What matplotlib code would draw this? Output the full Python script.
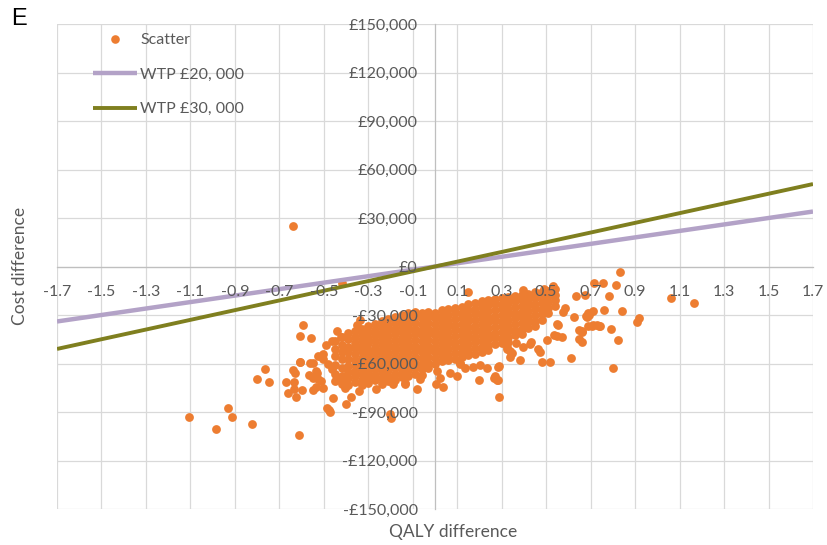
import matplotlib
matplotlib.use("Agg")
import matplotlib.pyplot as plt
from matplotlib.lines import Line2D
from matplotlib.ticker import FixedLocator, FuncFormatter

# Axis ticks
qaly_ticks = [-1.7, -1.5, -1.3, -1.1, -0.9, -0.7, -0.5, -0.3, -0.1,
              0.1, 0.3, 0.5, 0.7, 0.9, 1.1, 1.3, 1.5, 1.7]
cost_ticks = [-150000, -120000, -90000, -60000, -30000, 0,
              30000, 60000, 90000, 120000, 150000]

# Willingness-to-pay thresholds (£ per QALY gained)
wtp_labels = ["WTP £20, 000", "WTP £30, 000"]
wtp_values = [20000, 30000]

# Bootstrap replicates: (QALY difference, cost difference in £ thousand)
outlying_points = [
    (-0.639, 24.8), (-0.42, -10.4), (-1.105, -93.0), (-0.986, -100.4),
    (-0.932, -87.4), (-0.911, -93.0), (-0.822, -97.7), (-0.613, -104.3),
    (-0.80, -69.4), (-0.766, -63.5), (-0.745, -71.2), (-0.669, -71.2),
    (-0.662, -78.5), (-0.639, -64.0), (-0.631, -65.6), (-0.634, -71.2),
    (-0.634, -76.0), (-0.627, -80.7), (-0.607, -59.0), (-0.600, -76.6),
    (-0.592, -36.2), (-0.607, -42.9), (-0.558, -44.5), (-0.565, -67.3),
    (-0.562, -59.4), (-0.547, -59.4), (-0.550, -76.6), (-0.535, -74.5),
    (-0.537, -64.6), (-0.550, -68.8), (-0.531, -65.6), (-0.525, -69.4),
    (-0.514, -70.8), (-0.525, -55.3), (-0.502, -54.2), (-0.502, -57.3),
    (-0.489, -48.6), (-0.465, -46.0), (-0.487, -87.4), (-0.477, -88.6),
    (-0.472, -90.0), (-0.459, -81.6), (-0.400, -85.3), (-0.378, -80.6),
    (-0.343, -77.0), (-0.267, -75.6), (-0.190, -72.9), (-0.190, -70.2),
    (-0.136, -71.9), (-0.080, -76.0), (-0.067, -69.8), (-0.198, -94.0),
    (-0.202, -91.5), (0.004, -72.9), (0.035, -74.5), (-0.48, -60.4),
    (-0.465, -63.5), (-0.442, -68.8), (-0.420, -70.8), (-0.405, -75.0),
    (-0.502, -75.0), (-0.439, -39.8), (-0.424, -43.9), (-0.337, -32.9),
    (-0.352, -36.0), (-0.606, -58.8), (-0.135, -72.5),
    (0.832, -3.1), (0.717, -10.1), (0.757, -10.1), (0.814, -11.4),
    (0.784, -18.0), (0.633, -18.0), (0.675, -17.4), (1.061, -19.5),
    (1.166, -22.8), (0.760, -26.7), (0.843, -27.7), (0.709, -27.7),
    (0.693, -30.0), (0.682, -31.5), (0.625, -31.1), (0.585, -25.7),
    (0.577, -28.0), (0.917, -32.1), (0.910, -34.6), (0.712, -36.2),
    (0.690, -37.1), (0.739, -37.1), (0.792, -38.7), (0.648, -39.3),
    (0.663, -40.8), (0.648, -44.9), (0.663, -46.4), (0.822, -45.5),
    (0.552, -36.2), (0.537, -42.4), (0.570, -43.9), (0.502, -45.5),
    (0.472, -52.8), (0.462, -51.1), (0.517, -58.8), (0.483, -58.8),
    (0.612, -56.7), (0.799, -62.5), (0.532, -11.8), (0.490, -13.9),
    (0.529, -13.2), (0.520, -14.9), (0.150, -16.0), (0.397, -14.5),
    (0.342, -20.1), (0.472, -18.0), (0.445, -18.0), (0.255, -21.5),
    (0.217, -23.2), (0.679, -30.4), (0.690, -29.0), (0.742, -36.6),
    (0.727, -36.0), (0.707, -37.1), (0.660, -39.7), (0.547, -42.9),
    (0.547, -35.6), (0.432, -47.0), (0.427, -48.0), (0.397, -50.1),
    (0.364, -47.6), (0.382, -57.8), (0.337, -55.7), (0.322, -51.1),
    (0.345, -53.2), (0.322, -50.1), (0.337, -52.2), (0.288, -61.5),
    (0.285, -61.9), (0.270, -67.7), (0.282, -70.2), (0.267, -68.8),
    (0.280, -70.4), (0.288, -80.6), (0.198, -70.2), (0.232, -62.5),
    (0.170, -62.1), (0.202, -60.9), (0.112, -59.4), (0.135, -62.5),
    (0.112, -60.4), (0.067, -66.0), (0.098, -67.7), (0.008, -64.6),
    (0.022, -68.8),
]

central_points = [
    (-0.45, -46), (-0.45, -51), (-0.45, -55.5), (-0.45, -61), (-0.45, -66.5), (-0.45, -71),
    (-0.42, -43.5), (-0.42, -48.5), (-0.42, -53), (-0.42, -57.5), (-0.42, -63), (-0.42, -68), (-0.42, -72.5),
    (-0.39, -41), (-0.39, -45), (-0.39, -49.5), (-0.39, -53), (-0.39, -57), (-0.39, -61.5), (-0.39, -65), (-0.39, -69), (-0.39, -73),
    (-0.36, -40), (-0.36, -43.5), (-0.36, -47.5), (-0.36, -50.5), (-0.36, -54), (-0.36, -58), (-0.36, -61), (-0.36, -64.5), (-0.36, -68), (-0.36, -71.5),
    (-0.33, -38.5), (-0.33, -42), (-0.33, -45.5), (-0.33, -49), (-0.33, -52.5), (-0.33, -56.5), (-0.33, -59.5), (-0.33, -63), (-0.33, -66.5), (-0.33, -70), (-0.33, -73.5),
    (-0.30, -37), (-0.30, -40.5), (-0.30, -44), (-0.30, -47.5), (-0.30, -51.5), (-0.30, -54.5), (-0.30, -58), (-0.30, -61.5), (-0.30, -65), (-0.30, -68.5), (-0.30, -72),
    (-0.27, -35.5), (-0.27, -39), (-0.27, -42.5), (-0.27, -46), (-0.27, -49.5), (-0.27, -53), (-0.27, -56.5), (-0.27, -60), (-0.27, -63.5), (-0.27, -67), (-0.27, -70.5),
    (-0.24, -34), (-0.24, -37.5), (-0.24, -41), (-0.24, -44.5), (-0.24, -48), (-0.24, -51.5), (-0.24, -55), (-0.24, -58.5), (-0.24, -62), (-0.24, -65.5), (-0.24, -69), (-0.24, -72.5),
    (-0.21, -32.5), (-0.21, -36), (-0.21, -39.5), (-0.21, -43), (-0.21, -46.5), (-0.21, -50), (-0.21, -53.5), (-0.21, -57), (-0.21, -60.5), (-0.21, -64), (-0.21, -67.5), (-0.21, -71),
    (-0.18, -31.5), (-0.18, -35), (-0.18, -38.5), (-0.18, -42), (-0.18, -45.5), (-0.18, -49), (-0.18, -52.5), (-0.18, -56), (-0.18, -59.5), (-0.18, -63), (-0.18, -66.5), (-0.18, -70),
    (-0.15, -30), (-0.15, -33.5), (-0.15, -37), (-0.15, -40.5), (-0.15, -44), (-0.15, -47.5), (-0.15, -51), (-0.15, -54.5), (-0.15, -58), (-0.15, -61.5), (-0.15, -65), (-0.15, -68.5),
    (-0.12, -29), (-0.12, -32.5), (-0.12, -36), (-0.12, -39.5), (-0.12, -43), (-0.12, -46.5), (-0.12, -50), (-0.12, -53.5), (-0.12, -57), (-0.12, -60.5), (-0.12, -64), (-0.12, -67.5),
    (-0.09, -28), (-0.09, -31.5), (-0.09, -35), (-0.09, -38.5), (-0.09, -42), (-0.09, -45.5), (-0.09, -49), (-0.09, -52.5), (-0.09, -56), (-0.09, -59.5), (-0.09, -63), (-0.09, -66.5),
    (-0.06, -28.5), (-0.06, -32), (-0.06, -35.5), (-0.06, -39), (-0.06, -42.5), (-0.06, -46), (-0.06, -49.5), (-0.06, -53), (-0.06, -56.5), (-0.06, -60), (-0.06, -63.5), (-0.06, -67),
    (-0.03, -28), (-0.03, -31.5), (-0.03, -35), (-0.03, -38.5), (-0.03, -42), (-0.03, -45.5), (-0.03, -49), (-0.03, -52.5), (-0.03, -56), (-0.03, -59.5), (-0.03, -63),
    (0.00, -28.5), (0.00, -32), (0.00, -35.5), (0.00, -39), (0.00, -42.5), (0.00, -46), (0.00, -49.5), (0.00, -53), (0.00, -56.5), (0.00, -60),
    (0.03, -27), (0.03, -30.5), (0.03, -34), (0.03, -37.5), (0.03, -41), (0.03, -44.5), (0.03, -48), (0.03, -51.5), (0.03, -55), (0.03, -58.5),
    (0.06, -26.5), (0.06, -30), (0.06, -33.5), (0.06, -37), (0.06, -40.5), (0.06, -44), (0.06, -47.5), (0.06, -51), (0.06, -54.5), (0.06, -58),
    (0.09, -25.5), (0.09, -29), (0.09, -32.5), (0.09, -36), (0.09, -39.5), (0.09, -43), (0.09, -46.5), (0.09, -50), (0.09, -53.5), (0.09, -57),
    (0.12, -25), (0.12, -28.5), (0.12, -32), (0.12, -35.5), (0.12, -39), (0.12, -42.5), (0.12, -46), (0.12, -49.5), (0.12, -53), (0.12, -56),
    (0.15, -23.5), (0.15, -27), (0.15, -30.5), (0.15, -34), (0.15, -37.5), (0.15, -41), (0.15, -44.5), (0.15, -48), (0.15, -51.5), (0.15, -55),
    (0.18, -22.5), (0.18, -26), (0.18, -29.5), (0.18, -33), (0.18, -36.5), (0.18, -40), (0.18, -43.5), (0.18, -47), (0.18, -50.5), (0.18, -54),
    (0.21, -21.5), (0.21, -25), (0.21, -28.5), (0.21, -32), (0.21, -35.5), (0.21, -39), (0.21, -42.5), (0.21, -46), (0.21, -49.5), (0.21, -53),
    (0.24, -20.5), (0.24, -24), (0.24, -27.5), (0.24, -31), (0.24, -34.5), (0.24, -38), (0.24, -41.5), (0.24, -45), (0.24, -48.5), (0.24, -51.5),
    (0.27, -20), (0.27, -23.5), (0.27, -27), (0.27, -30.5), (0.27, -34), (0.27, -37.5), (0.27, -41), (0.27, -44.5), (0.27, -48),
    (0.30, -19.5), (0.30, -23), (0.30, -26.5), (0.30, -30), (0.30, -33.5), (0.30, -37), (0.30, -40.5), (0.30, -44), (0.30, -47.5),
    (0.33, -19), (0.33, -22.5), (0.33, -26), (0.33, -29.5), (0.33, -33), (0.33, -36.5), (0.33, -40), (0.33, -43.5), (0.33, -47),
    (0.36, -18), (0.36, -21.5), (0.36, -25), (0.36, -28.5), (0.36, -32), (0.36, -35.5), (0.36, -39), (0.36, -42.5),
    (0.39, -17.5), (0.39, -21), (0.39, -24.5), (0.39, -28), (0.39, -31.5), (0.39, -35), (0.39, -38.5), (0.39, -42),
    (0.42, -17), (0.42, -20.5), (0.42, -24), (0.42, -27.5), (0.42, -31), (0.42, -34.5), (0.42, -38),
    (0.45, -16), (0.45, -19.5), (0.45, -23), (0.45, -26.5), (0.45, -30), (0.45, -33.5), (0.45, -37),
    (0.48, -15.5), (0.48, -19), (0.48, -22.5), (0.48, -26), (0.48, -29.5), (0.48, -33),
    (0.51, -15), (0.51, -18.5), (0.51, -22), (0.51, -25.5), (0.51, -29),
    (0.54, -14), (0.54, -17.5), (0.54, -21), (0.54, -24.5),
]

ORANGE = "#ED7D31"
LAVENDER = "#B3A2C7"
OLIVE = "#7F7F1F"
GRID = "#D9D9D9"
TEXT = "#595959"
FONT = "Lato"

points = outlying_points + central_points
qaly_diff = [p[0] for p in points]
cost_diff = [p[1] * 1000 for p in points]

W, H = 828, 545
fig = plt.figure(figsize=(W / 100, H / 100), dpi=100)
ax = fig.add_axes([57 / W, 1 - 509 / H, (813 - 57) / W, (509 - 24) / H])
ax.set_xlim(qaly_ticks[0], qaly_ticks[-1])
ax.set_ylim(cost_ticks[0], cost_ticks[-1])

# Gridlines underneath everything
for t in qaly_ticks:
    ax.axvline(t, color=GRID, lw=0.9, zorder=0)
for t in cost_ticks:
    ax.axhline(t, color=GRID, lw=0.9, zorder=0)

# Axes crossing at the origin
for side in ("top", "right"):
    ax.spines[side].set_visible(False)
ax.spines["left"].set_position(("data", 0))
ax.spines["bottom"].set_position(("data", 0))
for side in ("left", "bottom"):
    ax.spines[side].set_color("#BFBFBF")
    ax.spines[side].set_linewidth(0.9)
    ax.spines[side].set_zorder(0.5)

ax.scatter(qaly_diff, cost_diff, s=40, color=ORANGE, linewidths=0,
           zorder=1.8, clip_on=False)

x_ends = [qaly_ticks[0], qaly_ticks[-1]]
line_colors = [LAVENDER, OLIVE]
line_widths = [3.2, 2.8]
for wtp, col, lw in zip(wtp_values, line_colors, line_widths):
    ax.plot(x_ends, [wtp * x for x in x_ends], color=col, lw=lw,
            solid_capstyle="butt", zorder=2)

ax.set_axisbelow(False)
ax.xaxis.set_major_locator(FixedLocator(qaly_ticks))
ax.yaxis.set_major_locator(FixedLocator(cost_ticks))
ax.xaxis.set_major_formatter(FuncFormatter(lambda v, p: f"{v:.1f}"))


def money(v, p):
    v = int(round(v))
    if v == 0:
        return "£0"
    sign = "-" if v < 0 else ""
    return f"{sign}£{abs(v):,}"


ax.yaxis.set_major_formatter(FuncFormatter(money))
ax.tick_params(axis="both", length=0, labelcolor=TEXT, labelsize=11.5)
ax.tick_params(axis="x", pad=13)
ax.tick_params(axis="y", pad=12.5)
for lab in ax.get_xticklabels() + ax.get_yticklabels():
    lab.set_fontfamily(FONT)
    lab.set_clip_on(False)

# Legend
handles = [Line2D([], [], marker="o", ls="none", color=ORANGE, markersize=6.2,
                  markeredgewidth=0)]
for col, lw in zip(line_colors, line_widths):
    handles.append(Line2D([], [], color=col, lw=lw, solid_capstyle="butt"))
leg = ax.legend(handles, ["Scatter"] + wtp_labels, loc="upper left",
                bbox_to_anchor=(93 / W, 1 - 33 / H), bbox_transform=fig.transFigure,
                frameon=False, handlelength=2.75, handletextpad=0.2,
                labelspacing=1.27, borderaxespad=0, borderpad=0,
                prop={"family": FONT, "size": 11.5})
for t in leg.get_texts():
    t.set_color(TEXT)
leg.set_zorder(3)

fig.text(11 / W, 1 - 19 / H, "E", fontsize=17, family="Liberation Sans",
         ha="left", va="center", color="black")
fig.text(20 / W, 1 - 266 / H, "Cost difference", rotation=90, fontsize=12.5,
         family=FONT, color=TEXT, ha="center", va="center")
fig.text(453 / W, 1 - 532 / H, "QALY difference", fontsize=12.5,
         family=FONT, color=TEXT, ha="center", va="center")

fig.savefig("out.png", dpi=100)
